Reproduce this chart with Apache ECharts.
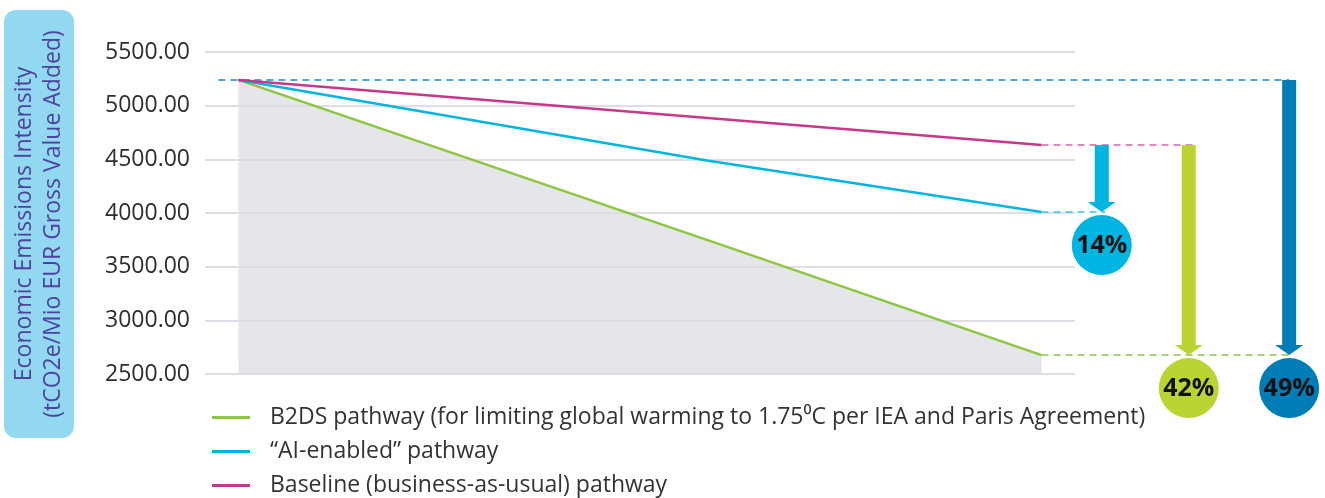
<!DOCTYPE html>
<html>
<head>
<meta charset="utf-8">
<script src="https://cdn.jsdelivr.net/npm/echarts@6/dist/echarts.min.js"></script>
<style>
html,body{margin:0;padding:0;background:#fff;}
#chart{width:1325px;height:498px;}
</style>
</head>
<body>
<div id="chart"></div>
<script>
// ---- data ----
const yTicks = [2500, 3000, 3500, 4000, 4500, 5000, 5500];
const b2ds = [[2018, 5240], [2025, 3750], [2030, 2676]];
const aiEnabled = [[2018, 5240], [2025, 4490], [2030, 4010]];
const baseline = [[2018, 5240], [2030, 4633]];
const seriesNames = [
  'B2DS pathway (for limiting global warming to 1.75\u2070C per IEA and Paris Agreement)',
  '\u201cAI-enabled\u201d pathway',
  'Baseline (business-as-usual) pathway'
];
// reduction annotations: [x position, from value, to value]
const reductionX = [2030.9, 2032.2, 2033.7];
const reductionFrom = [4633, 4633, 5240];
const reductionTo = [4010, 2676, 2676];
const reductionLabels = ['14%', '42%', '49%'];
// dashed reference lines: value, x start, x end
const refValues = [5240, 4633, 4010, 2676];
const refStart = [2017.7, 2030, 2030, 2030];
const refEnd = [2033.7, 2032.3, 2030.95, 2033.7];

const refColors = ['#1b88c9', '#d763a6', '#3cc3ea', '#8dc63f'];
const arrowColors = ['#00b5e2', '#bcd431', '#007cb6'];

const chart = echarts.init(document.getElementById('chart'));

const option = {
  animation: false,
  grid: {left: 205, right: 250, top: 52, bottom: 124},
  xAxis: {type: 'value', min: 2017.5, max: 2030.5, show: false},
  yAxis: {
    type: 'value', min: yTicks[0], max: yTicks[yTicks.length - 1], interval: 500,
    axisLine: {show: false}, axisTick: {show: false},
    axisLabel: {
      formatter: v => v.toFixed(2), fontSize: 23, color: '#2d2d2d',
      fontFamily: 'Open Sans', margin: 15
    },
    splitLine: {lineStyle: {color: '#d5d3de', width: 1.5}}
  },
  legend: {
    orient: 'vertical', left: 212, top: 406, height: 92, padding: 0,
    itemWidth: 38, itemHeight: 3, itemGap: 11,
    icon: 'rect',
    textStyle: {fontSize: 23, color: '#333', fontFamily: 'Open Sans', padding: [0, 0, 0, 15], lineHeight: 23},
    data: seriesNames
  },
  graphic: [
    {type: 'rect', left: 4, top: 10, shape: {width: 70, height: 428, r: 12}, style: {fill: '#92d8f0'}, z: 0},
    {
      type: 'text', x: 39, y: 224, rotation: Math.PI / 2,
      style: {
        text: 'Economic Emissions Intensity\n(tCO2e/Mio EUR Gross Value Added)',
        font: '23px "Open Sans"', fill: '#4f41a0', align: 'center', verticalAlign: 'middle', lineHeight: 29
      }
    }
  ],
  series: [
    {
      name: seriesNames[0], type: 'line', data: b2ds, symbol: 'none', z: 3,
      lineStyle: {color: '#8dc63f', width: 2.5}, itemStyle: {color: '#8dc63f'},
      areaStyle: {color: '#dadbdf', opacity: 0.7, origin: 'start'}
    },
    {
      name: seriesNames[1], type: 'line', data: aiEnabled, symbol: 'none', z: 3,
      lineStyle: {color: '#00b5e2', width: 2.5}, itemStyle: {color: '#00b5e2'}
    },
    {
      name: seriesNames[2], type: 'line', data: baseline, symbol: 'none', z: 4,
      lineStyle: {color: '#c8378b', width: 2.5}, itemStyle: {color: '#c8378b'}
    },
    {
      type: 'custom', silent: true, clip: false, z: 2,
      data: refValues.map((v, i) => [refStart[i], refEnd[i], v, i]),
      renderItem: function (params, api) {
        const i = api.value(3);
        const a = api.coord([api.value(0), api.value(2)]);
        const b = api.coord([api.value(1), api.value(2)]);
        return {
          type: 'line',
          shape: {x1: a[0], y1: a[1], x2: b[0], y2: b[1]},
          style: {stroke: refColors[i], lineWidth: 1.5, lineDash: [7, 5]}
        };
      }
    },
    {
      type: 'custom', silent: true, clip: false, z: 5,
      data: reductionX.map((x, i) => [x, reductionFrom[i], reductionTo[i], i]),
      renderItem: function (params, api) {
        const i = api.value(3);
        const top = api.coord([api.value(0), api.value(1)]);
        const tip = api.coord([api.value(0), api.value(2)]);
        const cx = top[0];
        const color = arrowColors[i];
        const headH = 10, headW = 28, shaftW = 14;
        return {
          type: 'group',
          children: [
            {type: 'rect', shape: {x: cx - shaftW / 2, y: top[1], width: shaftW, height: tip[1] - headH - top[1] + 0.5}, style: {fill: color}},
            {type: 'polygon', shape: {points: [[cx - headW / 2, tip[1] - headH], [cx + headW / 2, tip[1] - headH], [cx, tip[1]]]}, style: {fill: color}},
            {type: 'circle', shape: {cx: cx, cy: tip[1] + 33, r: 30}, style: {fill: color}},
            {type: 'text', x: cx, y: tip[1] + 34, style: {text: reductionLabels[i], font: 'bold 25px "Open Sans"', fill: '#111', align: 'center', verticalAlign: 'middle'}}
          ]
        };
      }
    }
  ]
};
chart.setOption(option);
</script>
</body>
</html>
